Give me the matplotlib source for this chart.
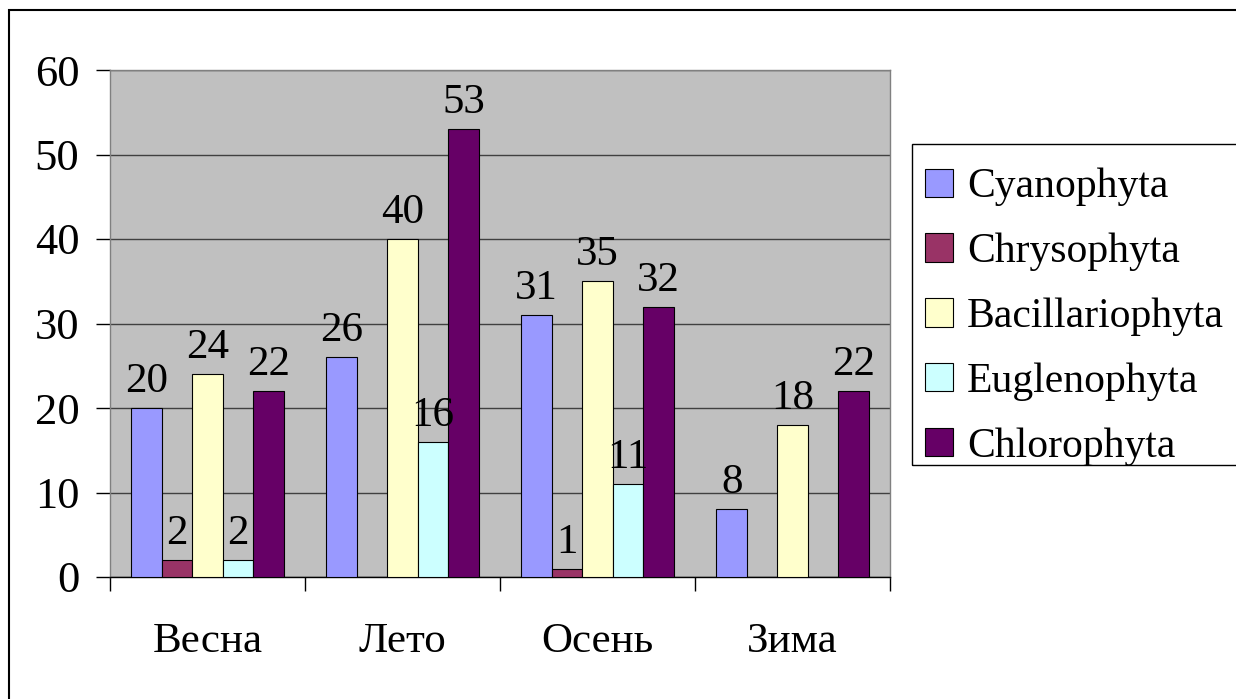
import numpy as np
import matplotlib
matplotlib.use("Agg")
import matplotlib.pyplot as plt
from matplotlib.patches import Rectangle

plt.rcParams['font.family'] = 'serif'
plt.rcParams['font.serif'] = ['Liberation Serif', 'Times New Roman', 'DejaVu Serif']

seasons = ["Весна", "Лето", "Осень", "Зима"]
groups = ["Cyanophyta", "Chrysophyta", "Bacillariophyta", "Euglenophyta", "Chlorophyta"]
cyanophyta = [20, 26, 31, 8]
chrysophyta = [2, 0, 1, 0]
bacillariophyta = [24, 40, 35, 18]
euglenophyta = [2, 16, 11, 0]
chlorophyta = [22, 53, 32, 22]
colors = ["#9999FF", "#993366", "#FFFFCC", "#CCFFFF", "#660066"]

series = [cyanophyta, chrysophyta, bacillariophyta, euglenophyta, chlorophyta]

W, H = 1236, 699
fig = plt.figure(figsize=(W / 100, H / 100), dpi=100)
ax = fig.add_axes([110 / W, 1 - 577 / H, 780 / W, 507 / H])
ax.set_facecolor("#C0C0C0")

x = np.arange(len(seasons))
w = 0.156
for i, (vals, name, c) in enumerate(zip(series, groups, colors)):
    pos = x + (i - 2) * w
    ax.bar(pos, vals, width=w, color=c, edgecolor="black", linewidth=0.8,
           label=name, zorder=3)
    # value labels, zeros left unlabeled
    for px, v in zip(pos, vals):
        if v > 0:
            ax.annotate(str(v), (px, v), xytext=(0, 5), textcoords="offset points",
                        ha="center", va="bottom", fontsize=31, zorder=4)

ax.set_xlim(-0.5, 3.5)
ax.set_ylim(0, 60)
ax.set_yticks(range(0, 61, 10))
ax.yaxis.grid(True, color="#404040", linewidth=1.0, zorder=1)
ax.set_axisbelow(True)
ax.tick_params(axis="y", labelsize=32, length=10, width=1.0, pad=12, color="black")

ax.set_xticks(x)
ax.set_xticklabels(seasons, fontsize=31)
ax.tick_params(axis="x", which="major", length=0, pad=33)
ax.set_xticks(np.arange(-0.5, 4.0, 1.0), minor=True)
ax.tick_params(axis="x", which="minor", length=10, width=1.0, color="black")

for s in ["left", "right", "top"]:
    ax.spines[s].set_color("#808080")
    ax.spines[s].set_linewidth(1.0)
ax.spines["bottom"].set_color("black")
ax.spines["bottom"].set_linewidth(1.0)

# legend without its own frame; box drawn separately
leg = fig.legend(loc="upper left", bbox_to_anchor=(925 / W, 1 - 168 / H),
                 fontsize=30, frameon=False,
                 handlelength=0.67, handleheight=0.67, handletextpad=0.34,
                 labelspacing=0.63, borderpad=0, borderaxespad=0)
fig.patches.append(Rectangle((912 / W, 1 - 465 / H), 400 / W, 321 / H,
                             transform=fig.transFigure, fill=False,
                             edgecolor="black", linewidth=1.0))

# outer chart border
fig.patches.append(Rectangle((9 / W, -0.1), 1.2, 1.1 - 10 / H,
                             transform=fig.transFigure, fill=False,
                             edgecolor="black", linewidth=1.5))

fig.savefig("out.png", dpi=100)
